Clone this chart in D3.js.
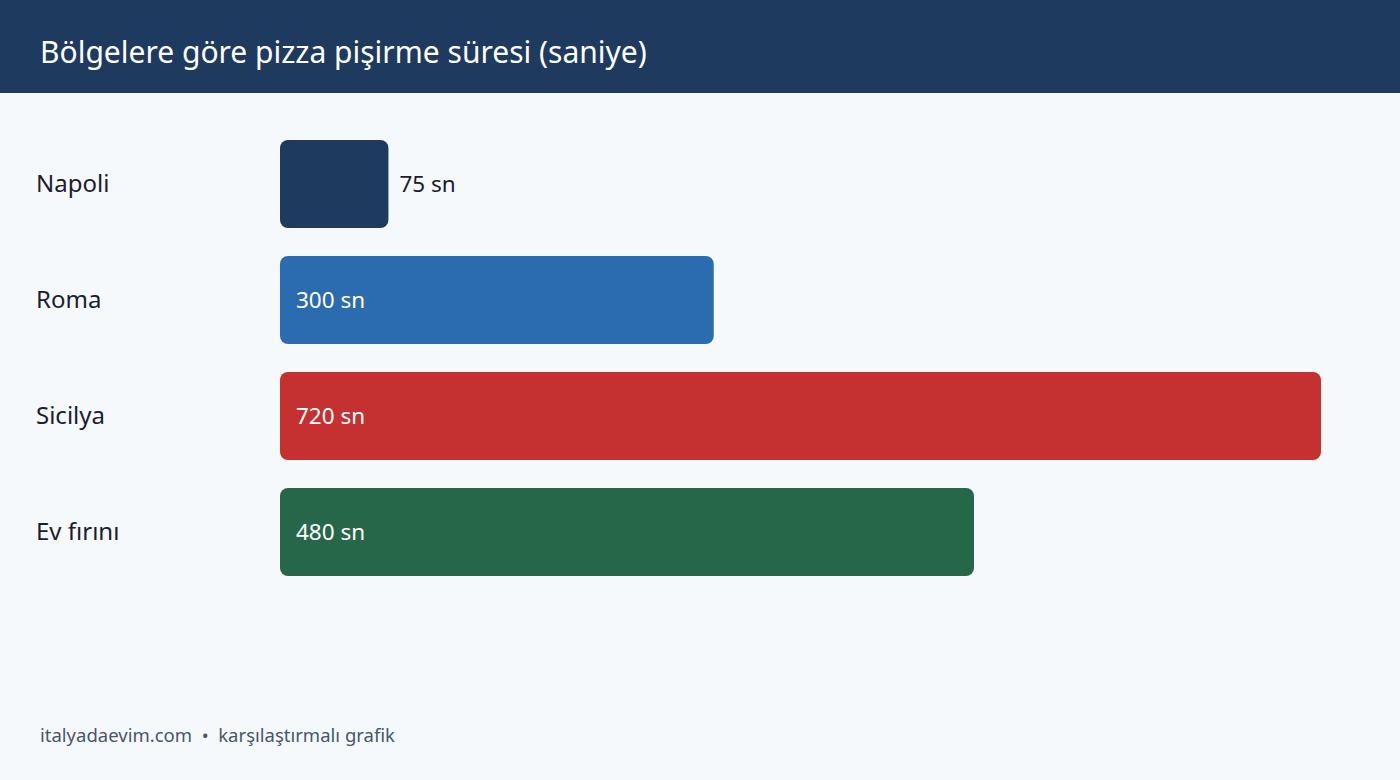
<!DOCTYPE html>
<html>
<head>
<meta charset="utf-8">
<script src="https://cdn.jsdelivr.net/npm/d3@7"></script>
<style>
  html, body { margin: 0; padding: 0; background: #f5f9fc; }
  svg { display: block; font-family: "Noto Sans", "Open Sans", sans-serif; }
</style>
</head>
<body>
<div id="chart"></div>
<script>
// data
const regions = ["Napoli", "Roma", "Sicilya", "Ev fırını"];
const seconds = [75, 300, 720, 480];
const barColors = ["#1f3a5f", "#2b6cb0", "#c53030", "#276749"];
const title = "Bölgelere göre pizza pişirme süresi (saniye)";
const footer = "italyadaevim.com  •  karşılaştırmalı grafik";

const width = 1400;
const height = 780;

const svg = d3.select("#chart").append("svg")
  .attr("width", width)
  .attr("height", height);

svg.append("rect")
  .attr("width", width)
  .attr("height", height)
  .attr("fill", "#f5f9fc");

// header band
svg.append("rect")
  .attr("width", width)
  .attr("height", 93)
  .attr("fill", "#1f3a5f");

svg.append("text")
  .attr("x", 40)
  .attr("y", 63)
  .attr("fill", "#ffffff")
  .attr("font-size", 30)
  .text(title);

const rows = regions.map((r, i) => ({ region: r, value: seconds[i], color: barColors[i] }));

const x = d3.scaleLinear()
  .domain([0, d3.max(seconds)])
  .range([280, 1321]);

const y = d3.scaleBand()
  .domain(regions)
  .range([126, 590])
  .paddingInner(0.2414)
  .paddingOuter(0.1207);

const row = svg.append("g")
  .selectAll("g")
  .data(rows)
  .join("g");

row.append("rect")
  .attr("x", x(0))
  .attr("y", d => y(d.region))
  .attr("width", d => x(d.value) - x(0))
  .attr("height", y.bandwidth())
  .attr("rx", 8)
  .attr("fill", d => d.color);

row.append("text")
  .attr("x", 36)
  .attr("y", d => y(d.region) + y.bandwidth() / 2)
  .attr("dy", "0.35em")
  .attr("fill", "#1a202c")
  .attr("font-size", 24)
  .text(d => d.region);

// value labels: inside the bar when there is room, otherwise after it
row.append("text")
  .attr("x", d => (x(d.value) - x(0) > 150 ? x(0) + 16 : x(d.value) + 11))
  .attr("y", d => y(d.region) + y.bandwidth() / 2)
  .attr("dy", "0.35em")
  .attr("fill", d => (x(d.value) - x(0) > 150 ? "#ffffff" : "#1a202c"))
  .attr("font-size", 22.5)
  .text(d => `${d.value} sn`);

svg.append("text")
  .attr("x", 40)
  .attr("y", 742)
  .attr("fill", "#4a5568")
  .attr("font-size", 18.5)
  .attr("xml:space", "preserve")
  .style("white-space", "pre")
  .text(footer);
</script>
</body>
</html>
